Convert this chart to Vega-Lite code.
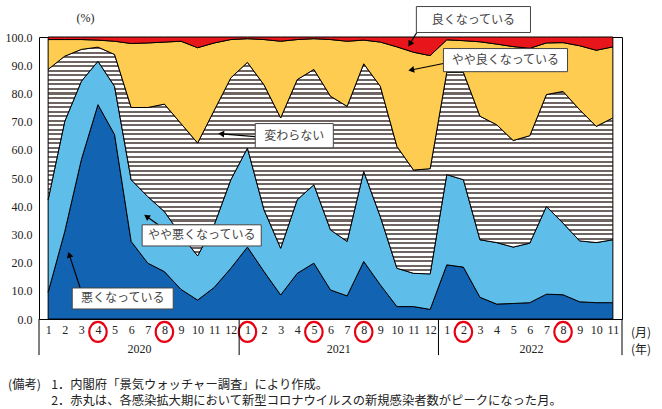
{
 "$schema": "https://vega.github.io/schema/vega-lite/v6.json",
 "width": 583,
 "height": 282,
 "autosize": {"type": "none"},
 "padding": {"left": 39, "top": 37, "right": 40, "bottom": 90},
 "background": "white",
 "config": {"view": {"stroke": "black", "strokeWidth": 1}, "font": "Noto Sans CJK JP"},
 "datasets": {
  "di": [
   {"m":0,"w1":9.5,"w2":32.8,"w3":46.2,"w4":10.6,"w5":0.9},
   {"m":1,"w1":31.0,"w2":39.1,"w3":23.1,"w4":5.9,"w5":0.9},
   {"m":2,"w1":56.5,"w2":27.8,"w3":11.3,"w4":3.5,"w5":0.9},
   {"m":3,"w1":76.0,"w2":15.4,"w3":5.0,"w4":2.5,"w5":1.1},
   {"m":4,"w1":65.4,"w2":17.1,"w3":11.3,"w4":4.7,"w5":1.5},
   {"m":5,"w1":27.5,"w2":21.9,"w3":25.6,"w4":22.7,"w5":2.3},
   {"m":6,"w1":19.8,"w2":23.6,"w3":31.6,"w4":22.9,"w5":2.1},
   {"m":7,"w1":16.8,"w2":21.3,"w3":38.1,"w4":22.0,"w5":1.8},
   {"m":8,"w1":10.5,"w2":19.3,"w3":39.5,"w4":29.2,"w5":1.5},
   {"m":9,"w1":6.7,"w2":15.7,"w3":40.0,"w4":33.8,"w5":3.8},
   {"m":10,"w1":11.2,"w2":22.2,"w3":40.6,"w4":23.9,"w5":2.1},
   {"m":11,"w1":18.0,"w2":31.4,"w3":36.1,"w4":13.6,"w5":0.9},
   {"m":12,"w1":25.5,"w2":35.1,"w3":30.4,"w4":8.4,"w5":0.6},
   {"m":13,"w1":16.8,"w2":21.9,"w3":44.3,"w4":16.1,"w5":0.9},
   {"m":14,"w1":8.5,"w2":16.6,"w3":46.2,"w4":27.2,"w5":1.5},
   {"m":15,"w1":16.2,"w2":26.1,"w3":42.6,"w4":14.2,"w5":0.9},
   {"m":16,"w1":19.8,"w2":27.8,"w3":40.9,"w4":10.9,"w5":0.6},
   {"m":17,"w1":10.3,"w2":21.3,"w3":47.4,"w4":20.1,"w5":0.9},
   {"m":18,"w1":8.2,"w2":19.3,"w3":47.9,"w4":23.1,"w5":1.5},
   {"m":19,"w1":20.4,"w2":31.9,"w3":38.2,"w4":8.4,"w5":1.1},
   {"m":20,"w1":12.1,"w2":24.2,"w3":46.2,"w4":15.7,"w5":1.8},
   {"m":21,"w1":4.4,"w2":13.6,"w3":43.2,"w4":35.3,"w5":3.5},
   {"m":22,"w1":4.4,"w2":11.8,"w3":36.6,"w4":41.8,"w5":5.4},
   {"m":23,"w1":3.4,"w2":12.6,"w3":37.3,"w4":40.1,"w5":6.6},
   {"m":24,"w1":19.2,"w2":32.0,"w3":36.3,"w4":11.5,"w5":1.0},
   {"m":25,"w1":18.4,"w2":31.0,"w3":38.1,"w4":11.2,"w5":1.3},
   {"m":26,"w1":7.7,"w2":20.4,"w3":43.8,"w4":26.4,"w5":1.7},
   {"m":27,"w1":5.3,"w2":21.8,"w3":41.8,"w4":28.6,"w5":2.5},
   {"m":28,"w1":5.5,"w2":20.0,"w3":37.8,"w4":33.3,"w5":3.4},
   {"m":29,"w1":5.8,"w2":21.1,"w3":38.1,"w4":31.0,"w5":4.0},
   {"m":30,"w1":8.8,"w2":31.1,"w3":39.7,"w4":18.3,"w5":2.1},
   {"m":31,"w1":8.6,"w2":25.4,"w3":46.7,"w4":17.3,"w5":2.0},
   {"m":32,"w1":6.1,"w2":21.6,"w3":46.5,"w4":22.7,"w5":3.1},
   {"m":33,"w1":5.8,"w2":21.3,"w3":41.2,"w4":27.0,"w5":4.7},
   {"m":34,"w1":5.8,"w2":22.3,"w3":43.2,"w4":25.2,"w5":3.5}
  ],
  "boxes": [
   {"m":22.17,"m2":29.04,"v":110.8,"v2":101.6},
   {"m":23.8,"m2":31.27,"v":95.9,"v2":87.7},
   {"m":12.47,"m2":17.17,"v":69.3,"v2":60.7},
   {"m":5.66,"m2":12.83,"v":33.4,"v2":25.9},
   {"m":1.45,"m2":7.53,"v":11.0,"v2":3.55}
  ],
  "boxtext": [
   {"m":25.6,"v":106.2,"t":"良くなっている"},
   {"m":27.53,"v":91.8,"t":"やや良くなっている"},
   {"m":14.82,"v":65.0,"t":"変わらない"},
   {"m":9.25,"v":29.66,"t":"やや悪くなっている"},
   {"m":4.49,"v":7.28,"t":"悪くなっている"}
  ],
  "shafts": [
   {"m":22.23,"v":101.95,"m2":21.78,"v2":97.55},
   {"m":23.8,"v":90.59,"m2":21.86,"v2":88.31},
   {"m":12.47,"v":64.65,"m2":10.42,"v2":65.65},
   {"m":6.63,"v":33.39,"m2":5.93,"v2":36.34},
   {"m":1.93,"v":11.01,"m2":1.27,"v2":22.81}
  ],
  "heads": [
   {"id":1,"m":21.78,"v":97.55},
   {"id":2,"m":21.86,"v":88.31},
   {"id":3,"m":10.42,"v":65.65},
   {"id":4,"m":5.93,"v":36.34},
   {"id":5,"m":1.27,"v":22.81}
  ],
  "peaks": [{"m":3,"v":-4.6},{"m":7,"v":-4.6},{"m":12,"v":-4.6},{"m":16,"v":-4.6},{"m":19,"v":-4.6},{"m":25,"v":-4.6},{"m":31,"v":-4.6}],
  "years": [{"m":5.5,"v":-10.8,"t":"2020"},{"m":17.5,"v":-10.8,"t":"2021"},{"m":29.1,"v":-10.8,"t":"2022"}],
  "seps": [{"m":-0.55,"v":0,"v2":-12.8},{"m":11.5,"v":0,"v2":-12.8},{"m":23.5,"v":0,"v2":-12.8},{"m":34.55,"v":0,"v2":-12.8}],
  "units": [{"m":35.7,"v":-5.0,"t":"(月)"},{"m":35.7,"v":-11.0,"t":"(年)"}],
  "foot": [
   {"m":-2.41,"v":-23.3,"t":"(備考)"},
   {"m":0.18,"v":-23.3,"t":"1．内閣府「景気ウォッチャー調査」により作成。"},
   {"m":0.18,"v":-29.2,"t":"2．赤丸は、各感染拡大期において新型コロナウイルスの新規感染者数がピークになった月。"}
  ]
 },
 "encoding": {
  "x": {"field": "m", "type": "quantitative",
    "scale": {"domain": [-0.55, 34.55], "nice": false, "zero": false},
    "axis": {"values": [0,1,2,3,4,5,6,7,8,9,10,11,12,13,14,15,16,17,18,19,20,21,22,23,24,25,26,27,28,29,30,31,32,33,34],
      "labelExpr": "'' + ((datum.value % 12) + 1)", "ticks": false, "domain": false, "grid": false,
      "labelPadding": 5, "labelFont": "Liberation Serif", "labelFontSize": 12, "labelColor": "#222",
      "labelOverlap": false, "labelFlush": false, "labelBound": false, "title": null}},
  "y": {"field": "v", "type": "quantitative",
    "scale": {"domain": [0, 100], "nice": false, "zero": false},
    "axis": {"values": [0,10,20,30,40,50,60,70,80,90,100], "format": ".1f", "ticks": false, "domain": false, "grid": false,
      "labelPadding": 7, "labelFont": "Liberation Serif", "labelFontSize": 12, "labelColor": "#222", "labelOverlap": false, "labelFlush": false,
      "title": "(%)", "titleAngle": 0, "titleX": 46, "titleY": -20, "titleAlign": "center", "titleBaseline": "middle",
      "titleFont": "Liberation Serif", "titleFontSize": 12, "titleFontWeight": "normal", "titleColor": "#222"}}
 },
 "layer": [
  {
   "data": {"name": "di"},
   "transform": [
    {"fold": ["w1","w2","w3","w4","w5"]},
    {"stack": "value", "groupby": ["m"], "sort": [{"field": "key", "order": "ascending"}], "as": ["v0", "v"]},
    {"filter": "datum.key == 'w1'"}
   ],
   "mark": {"type": "area", "fill": "#1363b3", "stroke": "black", "strokeWidth": 1, "fillOpacity": 1},
   "encoding": {"y2": {"field": "v0"}}
  },
  {
   "data": {"name": "di"},
   "transform": [
    {"fold": ["w1","w2","w3","w4","w5"]},
    {"stack": "value", "groupby": ["m"], "sort": [{"field": "key", "order": "ascending"}], "as": ["v0", "v"]},
    {"filter": "datum.key == 'w2'"}
   ],
   "mark": {"type": "area", "fill": "#5fbde9", "stroke": "black", "strokeWidth": 1, "fillOpacity": 1},
   "encoding": {"y2": {"field": "v0"}}
  },
  {
   "data": {"name": "di"},
   "transform": [
    {"fold": ["w1","w2","w3","w4","w5"]},
    {"stack": "value", "groupby": ["m"], "sort": [{"field": "key", "order": "ascending"}], "as": ["v0", "v"]},
    {"filter": "datum.key == 'w3'"}
   ],
   "mark": {"type": "area", "stroke": "black", "strokeWidth": 1, "fillOpacity": 1,
     "fill": {"gradient": "linear", "x1": 0, "y1": 0, "x2": 0, "y2": 1, "stops": [
{"offset":0,"color":"#6f6562"},{"offset":0.009,"color":"#6f6562"},{"offset":0.009,"color":"#fff"},{"offset":0.02,"color":"#fff"},
{"offset":0.02,"color":"#6f6562"},{"offset":0.029,"color":"#6f6562"},{"offset":0.029,"color":"#fff"},{"offset":0.04,"color":"#fff"},
{"offset":0.04,"color":"#6f6562"},{"offset":0.049,"color":"#6f6562"},{"offset":0.049,"color":"#fff"},{"offset":0.06,"color":"#fff"},
{"offset":0.06,"color":"#6f6562"},{"offset":0.069,"color":"#6f6562"},{"offset":0.069,"color":"#fff"},{"offset":0.08,"color":"#fff"},
{"offset":0.08,"color":"#6f6562"},{"offset":0.089,"color":"#6f6562"},{"offset":0.089,"color":"#fff"},{"offset":0.1,"color":"#fff"},
{"offset":0.1,"color":"#6f6562"},{"offset":0.109,"color":"#6f6562"},{"offset":0.109,"color":"#fff"},{"offset":0.12,"color":"#fff"},
{"offset":0.12,"color":"#6f6562"},{"offset":0.129,"color":"#6f6562"},{"offset":0.129,"color":"#fff"},{"offset":0.14,"color":"#fff"},
{"offset":0.14,"color":"#6f6562"},{"offset":0.149,"color":"#6f6562"},{"offset":0.149,"color":"#fff"},{"offset":0.16,"color":"#fff"},
{"offset":0.16,"color":"#6f6562"},{"offset":0.169,"color":"#6f6562"},{"offset":0.169,"color":"#fff"},{"offset":0.18,"color":"#fff"},
{"offset":0.18,"color":"#6f6562"},{"offset":0.189,"color":"#6f6562"},{"offset":0.189,"color":"#fff"},{"offset":0.2,"color":"#fff"},
{"offset":0.2,"color":"#6f6562"},{"offset":0.209,"color":"#6f6562"},{"offset":0.209,"color":"#fff"},{"offset":0.22,"color":"#fff"},
{"offset":0.22,"color":"#6f6562"},{"offset":0.229,"color":"#6f6562"},{"offset":0.229,"color":"#fff"},{"offset":0.24,"color":"#fff"},
{"offset":0.24,"color":"#6f6562"},{"offset":0.249,"color":"#6f6562"},{"offset":0.249,"color":"#fff"},{"offset":0.26,"color":"#fff"},
{"offset":0.26,"color":"#6f6562"},{"offset":0.269,"color":"#6f6562"},{"offset":0.269,"color":"#fff"},{"offset":0.28,"color":"#fff"},
{"offset":0.28,"color":"#6f6562"},{"offset":0.289,"color":"#6f6562"},{"offset":0.289,"color":"#fff"},{"offset":0.3,"color":"#fff"},
{"offset":0.3,"color":"#6f6562"},{"offset":0.309,"color":"#6f6562"},{"offset":0.309,"color":"#fff"},{"offset":0.32,"color":"#fff"},
{"offset":0.32,"color":"#6f6562"},{"offset":0.329,"color":"#6f6562"},{"offset":0.329,"color":"#fff"},{"offset":0.34,"color":"#fff"},
{"offset":0.34,"color":"#6f6562"},{"offset":0.349,"color":"#6f6562"},{"offset":0.349,"color":"#fff"},{"offset":0.36,"color":"#fff"},
{"offset":0.36,"color":"#6f6562"},{"offset":0.369,"color":"#6f6562"},{"offset":0.369,"color":"#fff"},{"offset":0.38,"color":"#fff"},
{"offset":0.38,"color":"#6f6562"},{"offset":0.389,"color":"#6f6562"},{"offset":0.389,"color":"#fff"},{"offset":0.4,"color":"#fff"},
{"offset":0.4,"color":"#6f6562"},{"offset":0.409,"color":"#6f6562"},{"offset":0.409,"color":"#fff"},{"offset":0.42,"color":"#fff"},
{"offset":0.42,"color":"#6f6562"},{"offset":0.429,"color":"#6f6562"},{"offset":0.429,"color":"#fff"},{"offset":0.44,"color":"#fff"},
{"offset":0.44,"color":"#6f6562"},{"offset":0.449,"color":"#6f6562"},{"offset":0.449,"color":"#fff"},{"offset":0.46,"color":"#fff"},
{"offset":0.46,"color":"#6f6562"},{"offset":0.469,"color":"#6f6562"},{"offset":0.469,"color":"#fff"},{"offset":0.48,"color":"#fff"},
{"offset":0.48,"color":"#6f6562"},{"offset":0.489,"color":"#6f6562"},{"offset":0.489,"color":"#fff"},{"offset":0.5,"color":"#fff"},
{"offset":0.5,"color":"#6f6562"},{"offset":0.509,"color":"#6f6562"},{"offset":0.509,"color":"#fff"},{"offset":0.52,"color":"#fff"},
{"offset":0.52,"color":"#6f6562"},{"offset":0.529,"color":"#6f6562"},{"offset":0.529,"color":"#fff"},{"offset":0.54,"color":"#fff"},
{"offset":0.54,"color":"#6f6562"},{"offset":0.549,"color":"#6f6562"},{"offset":0.549,"color":"#fff"},{"offset":0.56,"color":"#fff"},
{"offset":0.56,"color":"#6f6562"},{"offset":0.569,"color":"#6f6562"},{"offset":0.569,"color":"#fff"},{"offset":0.58,"color":"#fff"},
{"offset":0.58,"color":"#6f6562"},{"offset":0.589,"color":"#6f6562"},{"offset":0.589,"color":"#fff"},{"offset":0.6,"color":"#fff"},
{"offset":0.6,"color":"#6f6562"},{"offset":0.609,"color":"#6f6562"},{"offset":0.609,"color":"#fff"},{"offset":0.62,"color":"#fff"},
{"offset":0.62,"color":"#6f6562"},{"offset":0.629,"color":"#6f6562"},{"offset":0.629,"color":"#fff"},{"offset":0.64,"color":"#fff"},
{"offset":0.64,"color":"#6f6562"},{"offset":0.649,"color":"#6f6562"},{"offset":0.649,"color":"#fff"},{"offset":0.66,"color":"#fff"},
{"offset":0.66,"color":"#6f6562"},{"offset":0.669,"color":"#6f6562"},{"offset":0.669,"color":"#fff"},{"offset":0.68,"color":"#fff"},
{"offset":0.68,"color":"#6f6562"},{"offset":0.689,"color":"#6f6562"},{"offset":0.689,"color":"#fff"},{"offset":0.7,"color":"#fff"},
{"offset":0.7,"color":"#6f6562"},{"offset":0.709,"color":"#6f6562"},{"offset":0.709,"color":"#fff"},{"offset":0.72,"color":"#fff"},
{"offset":0.72,"color":"#6f6562"},{"offset":0.729,"color":"#6f6562"},{"offset":0.729,"color":"#fff"},{"offset":0.74,"color":"#fff"},
{"offset":0.74,"color":"#6f6562"},{"offset":0.749,"color":"#6f6562"},{"offset":0.749,"color":"#fff"},{"offset":0.76,"color":"#fff"},
{"offset":0.76,"color":"#6f6562"},{"offset":0.769,"color":"#6f6562"},{"offset":0.769,"color":"#fff"},{"offset":0.78,"color":"#fff"},
{"offset":0.78,"color":"#6f6562"},{"offset":0.789,"color":"#6f6562"},{"offset":0.789,"color":"#fff"},{"offset":0.8,"color":"#fff"},
{"offset":0.8,"color":"#6f6562"},{"offset":0.809,"color":"#6f6562"},{"offset":0.809,"color":"#fff"},{"offset":0.82,"color":"#fff"},
{"offset":0.82,"color":"#6f6562"},{"offset":0.829,"color":"#6f6562"},{"offset":0.829,"color":"#fff"},{"offset":0.84,"color":"#fff"},
{"offset":0.84,"color":"#6f6562"},{"offset":0.849,"color":"#6f6562"},{"offset":0.849,"color":"#fff"},{"offset":0.86,"color":"#fff"},
{"offset":0.86,"color":"#6f6562"},{"offset":0.869,"color":"#6f6562"},{"offset":0.869,"color":"#fff"},{"offset":0.88,"color":"#fff"},
{"offset":0.88,"color":"#6f6562"},{"offset":0.889,"color":"#6f6562"},{"offset":0.889,"color":"#fff"},{"offset":0.9,"color":"#fff"},
{"offset":0.9,"color":"#6f6562"},{"offset":0.909,"color":"#6f6562"},{"offset":0.909,"color":"#fff"},{"offset":0.92,"color":"#fff"},
{"offset":0.92,"color":"#6f6562"},{"offset":0.929,"color":"#6f6562"},{"offset":0.929,"color":"#fff"},{"offset":0.94,"color":"#fff"},
{"offset":0.94,"color":"#6f6562"},{"offset":0.949,"color":"#6f6562"},{"offset":0.949,"color":"#fff"},{"offset":0.96,"color":"#fff"},
{"offset":0.96,"color":"#6f6562"},{"offset":0.969,"color":"#6f6562"},{"offset":0.969,"color":"#fff"},{"offset":0.98,"color":"#fff"},
{"offset":0.98,"color":"#6f6562"},{"offset":0.989,"color":"#6f6562"},{"offset":0.989,"color":"#fff"},{"offset":1,"color":"#fff"}
     ]}},
   "encoding": {"y2": {"field": "v0"}}
  },
  {
   "data": {"name": "di"},
   "transform": [
    {"fold": ["w1","w2","w3","w4","w5"]},
    {"stack": "value", "groupby": ["m"], "sort": [{"field": "key", "order": "ascending"}], "as": ["v0", "v"]},
    {"filter": "datum.key == 'w4'"}
   ],
   "mark": {"type": "area", "fill": "#fdcc50", "stroke": "black", "strokeWidth": 1, "fillOpacity": 1},
   "encoding": {"y2": {"field": "v0"}}
  },
  {
   "data": {"name": "di"},
   "transform": [
    {"fold": ["w1","w2","w3","w4","w5"]},
    {"stack": "value", "groupby": ["m"], "sort": [{"field": "key", "order": "ascending"}], "as": ["v0", "v"]},
    {"filter": "datum.key == 'w5'"}
   ],
   "mark": {"type": "area", "fill": "#e8161b", "stroke": "black", "strokeWidth": 1, "fillOpacity": 1},
   "encoding": {"y2": {"field": "v0"}}
  },
  {
   "data": {"name": "shafts"},
   "mark": {"type": "rule", "color": "black", "strokeWidth": 1.2, "clip": false},
   "encoding": {"x2": {"field": "m2"}, "y2": {"field": "v2"}}
  },
  {
   "data": {"name": "heads"},
   "transform": [{"filter": "datum.id == 1"}],
   "mark": {"type": "point", "shape": "triangle-up", "filled": true, "color": "black", "size": 45, "angle": 211, "opacity": 1, "clip": false}
  },
  {
   "data": {"name": "heads"},
   "transform": [{"filter": "datum.id == 2"}],
   "mark": {"type": "point", "shape": "triangle-up", "filled": true, "color": "black", "size": 45, "angle": 259, "opacity": 1}
  },
  {
   "data": {"name": "heads"},
   "transform": [{"filter": "datum.id == 3"}],
   "mark": {"type": "point", "shape": "triangle-up", "filled": true, "color": "black", "size": 45, "angle": 275, "opacity": 1}
  },
  {
   "data": {"name": "heads"},
   "transform": [{"filter": "datum.id == 4"}],
   "mark": {"type": "point", "shape": "triangle-up", "filled": true, "color": "black", "size": 45, "angle": 305, "opacity": 1}
  },
  {
   "data": {"name": "heads"},
   "transform": [{"filter": "datum.id == 5"}],
   "mark": {"type": "point", "shape": "triangle-up", "filled": true, "color": "black", "size": 45, "angle": 342, "opacity": 1}
  },
  {
   "data": {"name": "boxes"},
   "mark": {"type": "rect", "fill": "white", "stroke": "#444", "strokeWidth": 1, "clip": false},
   "encoding": {"x2": {"field": "m2"}, "y2": {"field": "v2"}}
  },
  {
   "data": {"name": "boxtext"},
   "mark": {"type": "text", "align": "center", "baseline": "middle", "font": "Noto Sans CJK JP", "fontSize": 12, "color": "#444", "clip": false},
   "encoding": {"text": {"field": "t"}}
  },
  {
   "data": {"name": "peaks"},
   "mark": {"type": "point", "shape": "M0,-1 A0.875,1 0 1,1 0,1 A0.875,1 0 1,1 0,-1 Z", "filled": false, "stroke": "#e60012", "strokeWidth": 2.2, "size": 400, "opacity": 1, "clip": false}
  },
  {
   "data": {"name": "seps"},
   "mark": {"type": "rule", "color": "black", "strokeWidth": 1, "clip": false},
   "encoding": {"y2": {"field": "v2"}}
  },
  {
   "data": {"name": "years"},
   "mark": {"type": "text", "align": "center", "baseline": "middle", "font": "Liberation Serif", "fontSize": 12, "color": "#222", "clip": false},
   "encoding": {"text": {"field": "t"}}
  },
  {
   "data": {"name": "units"},
   "mark": {"type": "text", "align": "center", "baseline": "middle", "font": "Noto Sans CJK JP", "fontSize": 12, "color": "#222", "clip": false},
   "encoding": {"text": {"field": "t"}}
  },
  {
   "data": {"name": "foot"},
   "mark": {"type": "text", "align": "left", "baseline": "middle", "font": "Noto Sans CJK JP", "fontSize": 12.3, "color": "#222", "clip": false},
   "encoding": {"text": {"field": "t"}}
  }
 ]
}
